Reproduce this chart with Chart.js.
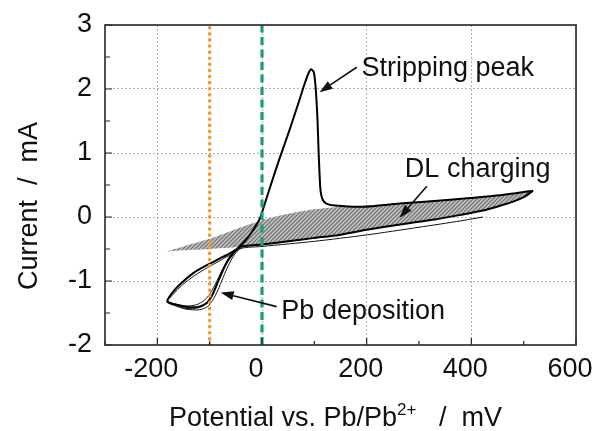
<!DOCTYPE html>
<html>
<head>
<meta charset="utf-8">
<style>
  html, body { margin: 0; padding: 0; background: #fff; }
  #wrap { width: 592px; height: 431px; }
</style>
<script src="https://cdn.jsdelivr.net/npm/chart.js@4.4.1/dist/chart.umd.min.js"></script>
</head>
<body>
<div id="wrap"><canvas id="cv"></canvas></div>
<script>
// axis ticks
const xTicks = [-200, 0, 200, 400, 600];
const xMinor = [-300, -100, 100, 300, 500];
const yTicks = [-2, -1, 0, 1, 2, 3];
const yMinor = [-1.5, -0.5, 0.5, 1.5, 2.5];

// reference potentials (mV)
const orangeX = -100;
const greenX = 0;

// main CV loop, starting at the right turning point, going cathodic
const loopX = [518, 500, 480, 449, 422, 384, 330, 277, 200, 148, 97, 50, 0, -43,
  -55, -65, -75, -85, -95, -105, -120, -140, -160, -181,
  -172, -155, -132, -107, -81, -60, -45, -25, -5, 5, 14, 33, 53, 72, 81, 89, 94,
  99, 102, 104, 106, 108, 110, 112, 116, 123, 139, 192, 263, 359, 455, 518];
const loopY = [0.41, 0.31, 0.24, 0.16, 0.10, 0.04, -0.04, -0.10, -0.20, -0.28, -0.33, -0.38, -0.43, -0.47,
  -0.57, -0.68, -0.84, -1.03, -1.22, -1.34, -1.40, -1.41, -1.38, -1.32,
  -1.19, -1.04, -0.88, -0.76, -0.65, -0.56, -0.48, -0.30, -0.04, 0.20, 0.43, 0.90, 1.37, 1.84, 2.07, 2.25, 2.31,
  2.26, 2.07, 1.84, 1.53, 1.06, 0.67, 0.40, 0.27, 0.21, 0.18, 0.16, 0.21, 0.27, 0.34, 0.41];

// first cycle (scan turned at ~420 mV) and its deposition branch
const cyc1X = [422, 380, 300, 200, 100, 0, -40, -52, -62, -72, -82, -92, -104, -120, -145, -165, -181,
  -170, -152, -128, -104, -80, -58];
const cyc1Y = [0.0, -0.06, -0.16, -0.28, -0.38, -0.46, -0.49, -0.58, -0.72, -0.90, -1.10, -1.27, -1.40, -1.45, -1.44, -1.39, -1.33,
  -1.21, -1.06, -0.91, -0.79, -0.68, -0.58];

// further cycles, deposition branch only
const cyc2X = [-40, -58, -68, -78, -88, -98, -110, -125, -145, -165, -181];
const cyc2Y = [-0.48, -0.58, -0.70, -0.86, -1.03, -1.18, -1.30, -1.37, -1.39, -1.36, -1.32];
const cyc3X = [-42, -56, -66, -76, -86, -96, -107, -122, -143, -163, -181];
const cyc3Y = [-0.48, -0.58, -0.69, -0.85, -1.05, -1.24, -1.36, -1.42, -1.43, -1.38, -1.32];

// double layer charging area
const dlX = [-183, -150, -100, -50, 0, 50, 100, 150, 192, 263, 359, 455, 518,
  500, 480, 449, 422, 384, 330, 277, 200, 148, 97, 50, 0, -43, -100, -150, -183];
const dlY = [-0.54, -0.46, -0.34, -0.19, -0.05, 0.05, 0.12, 0.16, 0.17, 0.21, 0.27, 0.34, 0.41,
  0.31, 0.24, 0.16, 0.10, 0.04, -0.04, -0.10, -0.20, -0.28, -0.33, -0.38, -0.43, -0.47, -0.50, -0.52, -0.54];

const FONT = '"Liberation Sans", Arial, Helvetica, sans-serif';

function pts(xs, ys) {
  return xs.map(function (x, i) { return { x: x, y: ys[i] }; });
}

const canvas = document.getElementById("cv");
const ctx0 = canvas.getContext("2d");

function hatchPattern() {
  const c = document.createElement("canvas");
  c.width = 4; c.height = 4;
  const g = c.getContext("2d");
  g.fillStyle = "#bebebe";
  g.fillRect(0, 0, 4, 4);
  g.strokeStyle = "#6f6f6f";
  g.lineWidth = 1.1;
  g.beginPath();
  g.moveTo(-1, 5); g.lineTo(5, -1);
  g.moveTo(-1, 1); g.lineTo(1, -1);
  g.moveTo(3, 5); g.lineTo(5, 3);
  g.stroke();
  return ctx0.createPattern(c, "repeat");
}

const notes = [
  { text: "Stripping peak", tx: 190, ty: 2.20, ax: 181, ay: 2.34, bx: 110, by: 1.95 },
  { text: "DL charging", tx: 273, ty: 0.62, ax: 315, ay: 0.48, bx: 263, by: -0.01 },
  { text: "Pb deposition", tx: 37, ty: -1.60, ax: 28, ay: -1.40, bx: -79, by: -1.18 }
];

function arrow(ctx, x1, y1, x2, y2) {
  const a = Math.atan2(y2 - y1, x2 - x1), L = 13, W = 4.5;
  const ex = x2 - L * Math.cos(a), ey = y2 - L * Math.sin(a);
  ctx.beginPath();
  ctx.moveTo(x1, y1);
  ctx.lineTo(ex, ey);
  ctx.stroke();
  ctx.beginPath();
  ctx.moveTo(x2, y2);
  ctx.lineTo(ex + W * Math.sin(a), ey - W * Math.cos(a));
  ctx.lineTo(ex - W * Math.sin(a), ey + W * Math.cos(a));
  ctx.closePath();
  ctx.fill();
}

const decor = {
  id: "decor",
  afterDatasetsDraw(chart) {
    const ctx = chart.ctx, a = chart.chartArea;
    const xs = chart.scales.x, ys = chart.scales.y;
    ctx.save();
    // inward ticks
    ctx.strokeStyle = "#222";
    ctx.lineWidth = 1.2;
    ctx.beginPath();
    xTicks.forEach(function (v) { const p = xs.getPixelForValue(v); ctx.moveTo(p, a.bottom); ctx.lineTo(p, a.bottom - 7); });
    xMinor.forEach(function (v) { const p = xs.getPixelForValue(v); ctx.moveTo(p, a.bottom); ctx.lineTo(p, a.bottom - 4); });
    yTicks.forEach(function (v) { const p = ys.getPixelForValue(v); ctx.moveTo(a.left, p); ctx.lineTo(a.left + 7, p); });
    yMinor.forEach(function (v) { const p = ys.getPixelForValue(v); ctx.moveTo(a.left, p); ctx.lineTo(a.left + 5, p); });
    ctx.stroke();
    // frame
    ctx.strokeStyle = "#333";
    ctx.lineWidth = 1.7;
    ctx.strokeRect(a.left, a.top, a.right - a.left, a.bottom - a.top);

    // annotations
    ctx.fillStyle = "#111";
    ctx.strokeStyle = "#111";
    ctx.lineWidth = 1.6;
    ctx.font = "27px " + FONT;
    ctx.textBaseline = "alphabetic";
    notes.forEach(function (n) {
      ctx.fillText(n.text, xs.getPixelForValue(n.tx), ys.getPixelForValue(n.ty));
      arrow(ctx, xs.getPixelForValue(n.ax), ys.getPixelForValue(n.ay),
        xs.getPixelForValue(n.bx), ys.getPixelForValue(n.by));
    });

    // x axis title with superscript
    const big = "27px " + FONT, small = "17px " + FONT;
    const p1 = "Potential vs. Pb/Pb", p2 = "2+", p3 = "   /  mV";
    ctx.font = big; const w1 = ctx.measureText(p1).width, w3 = ctx.measureText(p3).width;
    ctx.font = small; const w2 = ctx.measureText(p2).width;
    let x0 = (a.left + a.right) / 2 - 5 - (w1 + w2 + w3) / 2;
    const base = 426;
    ctx.font = big; ctx.fillText(p1, x0, base); x0 += w1;
    ctx.font = small; ctx.fillText(p2, x0, base - 11); x0 += w2;
    ctx.font = big; ctx.fillText(p3, x0, base);

    // y axis title
    ctx.save();
    ctx.translate(37, 206);
    ctx.rotate(-Math.PI / 2);
    ctx.font = big;
    ctx.textAlign = "center";
    ctx.fillText("Current  /  mA", 0, 0);
    ctx.restore();
    ctx.restore();
  }
};

const hatch = hatchPattern();

new Chart(canvas, {
  type: "line",
  data: {
    datasets: [
      {
        data: pts([greenX, greenX], [yTicks[0], yTicks[yTicks.length - 1]]),
        borderColor: "#1a9e78", borderWidth: 3.2, borderDash: [8, 4.5], tension: 0
      },
      {
        data: pts([orangeX, orangeX], [yTicks[0], yTicks[yTicks.length - 1]]),
        borderColor: "#f7962a", borderWidth: 3.6, borderDash: [0.1, 6], borderCapStyle: "round", tension: 0
      },
      { data: pts(loopX, loopY), borderColor: "#000", borderWidth: 2, tension: 0.25 },
      { data: pts(cyc1X, cyc1Y), borderColor: "#111", borderWidth: 1, tension: 0.25 },
      { data: pts(cyc2X, cyc2Y), borderColor: "#111", borderWidth: 1, tension: 0.25 },
      { data: pts(cyc3X, cyc3Y), borderColor: "#111", borderWidth: 1, tension: 0.25 },
      {
        data: pts(dlX, dlY), borderWidth: 0, borderColor: "rgba(0,0,0,0)",
        backgroundColor: hatch, fill: "shape", tension: 0.2
      }
    ]
  },
  options: {
    responsive: true,
    maintainAspectRatio: false,
    devicePixelRatio: 1,
    animation: false,
    layout: { padding: { left: 0, right: 16, top: 25, bottom: 0 } },
    elements: { point: { radius: 0, hoverRadius: 0 }, line: { borderJoinStyle: "round" } },
    plugins: { legend: { display: false }, tooltip: { enabled: false } },
    events: [],
    scales: {
      x: {
        type: "linear", min: -300, max: 600,
        afterBuildTicks: function (s) { s.ticks = xTicks.map(function (v) { return { value: v }; }); },
        afterFit: function (s) { s.height = 86; s.paddingLeft = 0; s.paddingRight = 0; },
        grid: { color: "#b0b0b0", lineWidth: 1, drawTicks: false },
        border: { display: false, dash: [2, 2] },
        ticks: { font: { family: FONT, size: 27 }, color: "#111", padding: 8, maxRotation: 0, autoSkip: false, labelOffset: -6 }
      },
      y: {
        type: "linear", min: -2, max: 3,
        afterBuildTicks: function (s) { s.ticks = yTicks.map(function (v) { return { value: v }; }); },
        afterFit: function (s) { s.width = 105; s.paddingTop = 0; s.paddingBottom = 0; },
        grid: { color: "#b0b0b0", lineWidth: 1, drawTicks: false },
        border: { display: false, dash: [2, 2] },
        ticks: { font: { family: FONT, size: 27 }, color: "#111", padding: 13, autoSkip: false }
      }
    }
  },
  plugins: [decor]
});
</script>
</body>
</html>
